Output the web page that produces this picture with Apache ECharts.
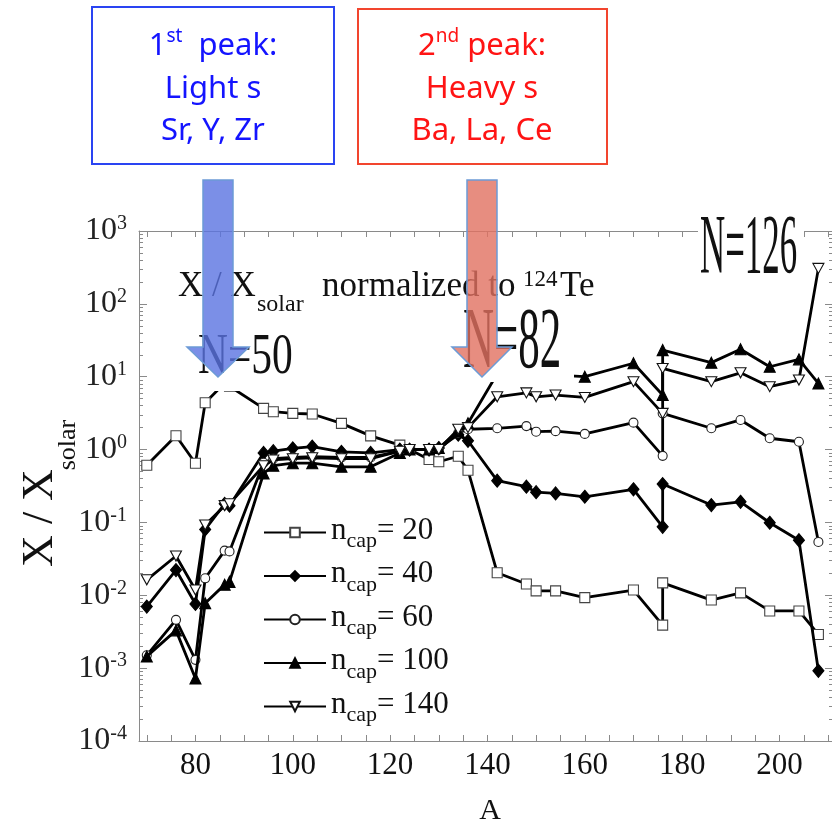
<!DOCTYPE html>
<html><head><meta charset="utf-8">
<script src="https://cdn.jsdelivr.net/npm/echarts@6/dist/echarts.min.js"></script>
<style>html,body{margin:0;padding:0;background:#fff}#c{width:832px;height:820px}</style>
</head><body><div id="c"></div>
<script>
// Mass numbers A (two points at A=176)
const massNumbers = [70, 76, 80, 82, 86, 87, 94, 96, 100, 104, 110, 116, 122, 124, 128, 130, 134, 136, 142, 148, 150, 154, 160, 170, 176, 176, 186, 192, 198, 204, 208];
const ncap20  = [0.61, 1.55, 0.65, 4.4, 8.2, 7.4, 3.68, 3.31, 3.14, 3.08, 2.29, 1.54, 1.15, 1.0, 0.73, 0.68, 0.81, 0.52, 0.0204, 0.0143, 0.0115, 0.0115, 0.0093, 0.0118, 0.0039, 0.0148, 0.0086, 0.0108, 0.0061, 0.0061, 0.0029];
const ncap40  = [0.0070, 0.0222, 0.0076, 0.080, 0.18, 0.17, 0.90, 0.95, 1.04, 1.10, 0.93, 0.90, 1.0, 1.0, 1.0, 1.05, 1.6, 1.32, 0.374, 0.31, 0.26, 0.25, 0.225, 0.285, 0.087, 0.336, 0.173, 0.192, 0.099, 0.057, 0.00092];
const ncap60  = [0.0015, 0.0046, 0.0013, 0.0171, 0.041, 0.040, 0.66, 0.75, 0.78, 0.80, 0.78, 0.78, 0.95, 1.0, 1.0, 1.0, 1.7, 1.9, 1.96, 2.1, 1.76, 1.79, 1.64, 2.34, 0.82, 3.14, 1.96, 2.55, 1.43, 1.28, 0.054];
const ncap100 = [0.00145, 0.0033, 0.00072, 0.0078, 0.014, 0.0153, 0.47, 0.60, 0.65, 0.65, 0.58, 0.58, 0.90, 1.0, 1.0, 1.05, 1.8, 2.3, 11, 11.5, 11, 10.5, 10, 15.3, 5.6, 23.2, 15.6, 23.8, 13.7, 17.3, 8.1];
const ncap140 = [0.0163, 0.0346, 0.0118, 0.092, 0.17, 0.18, 0.60, 0.72, 0.75, 0.77, 0.75, 0.75, 0.95, 1.0, 1.0, 1.0, 1.9, 2.0, 5.3, 6.0, 5.3, 5.6, 5.2, 8.55, 3.14, 13, 8.55, 11.3, 7.3, 9.0, 307];

const seriesNames = ['n_cap = 20', 'n_cap = 40', 'n_cap = 60', 'n_cap = 100', 'n_cap = 140'];
const legendValues = ['20', '40', '60', '100', '140'];
const xLabelValues = [80, 100, 120, 140, 160, 180, 200];
const xTickValues = [70, 75, 80, 85, 90, 95, 100, 105, 110, 115, 120, 125, 130, 135, 140, 145, 150, 155, 160, 165, 170, 175, 180, 185, 190, 195, 200, 205, 210];
const yDecadeExponents = [-4, -3, -2, -1, 0, 1, 2, 3];
const yMinorMultipliers = [2, 3, 4, 5, 6, 7, 8, 9];

const serif = 'Liberation Serif';
const sans = 'Noto Sans';
const minorTickLogs = [];
yDecadeExponents.slice(0, -1).forEach(e => yMinorMultipliers.forEach(m => minorTickLogs.push(e + Math.log10(m))));

const pair = arr => massNumbers.map((a, i) => [a, arr[i]]);
const allValues = [ncap20, ncap40, ncap60, ncap100, ncap140];
const symbolDefs = [
  {symbol: 'rect', size: 10, fill: '#fff', border: '#444'},
  {symbol: 'diamond', size: [11, 13], fill: '#000', border: '#000'},
  {symbol: 'circle', size: 9, fill: '#fff', border: '#222'},
  {symbol: 'triangle', size: 11, fill: '#000', border: '#000'},
  {symbol: 'path://M0,0L10,0L5,9Z', size: [11, 10], fill: '#fff', border: '#111'}
];

const series = allValues.map((vals, i) => ({
  name: seriesNames[i],
  type: 'line',
  data: pair(vals),
  symbol: symbolDefs[i].symbol,
  symbolSize: symbolDefs[i].size,
  showSymbol: true,
  showAllSymbol: true,
  lineStyle: {color: '#000', width: 2.8},
  itemStyle: {color: symbolDefs[i].fill, borderColor: symbolDefs[i].border, borderWidth: 1.1},
  emphasis: {disabled: true},
  z: 2 + i
}));

const axisGray = '#8a8a8a';

const graphicEls = [
  // white label backgrounds (cover the curves like in the original figure)
  {type: 'rect', shape: {x: 185, y: 330, width: 117, height: 61}, style: {fill: '#fff'}, z: 50},
  {type: 'rect', shape: {x: 455, y: 306, width: 119, height: 76}, style: {fill: '#fff'}, z: 50},
  {type: 'rect', shape: {x: 698, y: 214, width: 106, height: 68}, style: {fill: '#fff'}, z: 50},
  // N labels
  {type: 'text', x: 198, y: 358, scaleX: 0.74, style: {text: 'N=50', fontSize: 56, fontFamily: serif, fill: '#111', align: 'left', verticalAlign: 'middle'}, z: 55},
  {type: 'text', x: 463, y: 344, scaleX: 0.5, style: {text: 'N=82', fontSize: 86, fontFamily: serif, fill: '#111', align: 'left', verticalAlign: 'middle'}, z: 55},
  {type: 'text', x: 700, y: 251, scaleX: 0.41, style: {text: 'N=126', fontSize: 85, fontFamily: serif, fill: '#111', align: 'left', verticalAlign: 'middle'}, z: 55},
  // inner title
  {type: 'text', x: 178, y: 287, style: {text: 'X / X', fontSize: 35, fontFamily: serif, fill: '#111', align: 'left', verticalAlign: 'middle'}, z: 55},
  {type: 'text', x: 257, y: 305, style: {text: 'solar', fontSize: 24, fontFamily: serif, fill: '#111', align: 'left', verticalAlign: 'middle'}, z: 55},
  {type: 'text', x: 322, y: 287, style: {text: 'normalized to', fontSize: 35, fontFamily: serif, fill: '#111', align: 'left', verticalAlign: 'middle'}, z: 55},
  {type: 'text', x: 523, y: 280, style: {text: '124', fontSize: 23, fontFamily: serif, fill: '#111', align: 'left', verticalAlign: 'middle'}, z: 55},
  {type: 'text', x: 560, y: 287, style: {text: 'Te', fontSize: 35, fontFamily: serif, fill: '#111', align: 'left', verticalAlign: 'middle'}, z: 55},
  // y axis title
  {type: 'text', x: 40, y: 518, rotation: Math.PI / 2, style: {text: 'X / X', fontSize: 44, fontFamily: serif, fill: '#111', align: 'center', verticalAlign: 'middle'}, z: 55},
  {type: 'text', x: 68, y: 445, rotation: Math.PI / 2, style: {text: 'solar', fontSize: 26, fontFamily: serif, fill: '#111', align: 'center', verticalAlign: 'middle'}, z: 55},
  // arrows
  {type: 'polygon', shape: {points: [[203, 180], [233, 180], [233, 347], [249, 347], [218, 377], [187, 347], [203, 347]]},
   style: {fill: 'rgba(90,115,225,0.8)', stroke: '#6c9bd6', lineWidth: 1.5}, z: 60},
  {type: 'polygon', shape: {points: [[467, 180], [497, 180], [497, 347], [512, 347], [482, 377], [452, 347], [467, 347]]},
   style: {fill: 'rgba(225,112,96,0.8)', stroke: '#6c9bd6', lineWidth: 1.5}, z: 60},
  // top boxes
  {type: 'rect', shape: {x: 92, y: 7, width: 242, height: 157}, style: {fill: '#fff', stroke: '#2a44f2', lineWidth: 2}, z: 60},
  {type: 'rect', shape: {x: 358, y: 9, width: 249, height: 155}, style: {fill: '#fff', stroke: '#f2452e', lineWidth: 2}, z: 60},
  {type: 'text', x: 213, y: 46, style: {text: '{m|1}{s|st}{m|  peak:}', align: 'center', verticalAlign: 'middle',
    rich: {m: {fontSize: 31, fontFamily: sans, fill: '#1414ff', verticalAlign: 'middle'}, s: {fontSize: 19, fontFamily: sans, fill: '#1414ff', verticalAlign: 'middle', padding: [0, 0, 18, 0]}}}, z: 61},
  {type: 'text', x: 213, y: 89, style: {text: 'Light s', fontSize: 31, fontFamily: sans, fill: '#1414ff', align: 'center', verticalAlign: 'middle'}, z: 61},
  {type: 'text', x: 213, y: 131, style: {text: 'Sr, Y, Zr', fontSize: 31, fontFamily: sans, fill: '#1414ff', align: 'center', verticalAlign: 'middle'}, z: 61},
  {type: 'text', x: 482, y: 46, style: {text: '{m|2}{s|nd}{m| peak:}', align: 'center', verticalAlign: 'middle',
    rich: {m: {fontSize: 31, fontFamily: sans, fill: '#ff1414', verticalAlign: 'middle'}, s: {fontSize: 19, fontFamily: sans, fill: '#ff1414', verticalAlign: 'middle', padding: [0, 0, 18, 0]}}}, z: 61},
  {type: 'text', x: 482, y: 89, style: {text: 'Heavy s', fontSize: 31, fontFamily: sans, fill: '#ff1414', align: 'center', verticalAlign: 'middle'}, z: 61},
  {type: 'text', x: 482, y: 131, style: {text: 'Ba, La, Ce', fontSize: 31, fontFamily: sans, fill: '#ff1414', align: 'center', verticalAlign: 'middle'}, z: 61}
];

const xCommon = {
  type: 'value', min: 68.4, max: 211,
  axisLine: {show: true, onZero: false, lineStyle: {color: axisGray, width: 1}},
  splitLine: {show: false}
};
const yLogCommon = {
  type: 'log', logBase: 10, min: 1e-4, max: 1e3,
  axisLine: {show: true, onZero: false, lineStyle: {color: axisGray, width: 1}},
  axisTick: {show: true, inside: true, length: 8, lineStyle: {color: axisGray}},
  splitLine: {show: false}
};
const yMinorCommon = {
  type: 'value', min: -4, max: 3,
  axisLine: {show: false},
  axisLabel: {show: false},
  axisTick: {show: true, inside: true, length: 4, customValues: minorTickLogs, lineStyle: {color: axisGray}},
  splitLine: {show: false}
};

const option = {
  animation: false,
  backgroundColor: '#fff',
  grid: {left: 139, top: 231, right: -1, bottom: 79, containLabel: false, outerBoundsMode: 'none'},
  xAxis: [
    Object.assign({}, xCommon, {
      position: 'bottom',
      name: 'A', nameLocation: 'middle', nameGap: 55,
      nameTextStyle: {fontFamily: serif, fontSize: 30, color: '#111', padding: [0, 0, 0, 8]},
      axisTick: {show: true, inside: true, length: 6, customValues: xTickValues, lineStyle: {color: axisGray}},
      axisLabel: {show: true, customValues: xLabelValues, margin: 9, fontFamily: serif, fontSize: 31, color: '#111'}
    }),
    Object.assign({}, xCommon, {
      position: 'top',
      axisTick: {show: true, inside: true, length: 6, customValues: xTickValues, lineStyle: {color: axisGray}},
      axisLabel: {show: false}
    })
  ],
  yAxis: [
    Object.assign({}, yLogCommon, {
      position: 'left',
      axisLabel: {show: true, margin: 12,
        formatter: v => '{b|10}{s|' + Math.round(Math.log10(v)) + '}',
        rich: {
          b: {fontFamily: serif, fontSize: 32, color: '#222', verticalAlign: 'middle'},
          s: {fontFamily: serif, fontSize: 20, color: '#222', verticalAlign: 'middle', padding: [0, 0, 14, 0]}
        }}
    }),
    Object.assign({}, yLogCommon, {position: 'right', axisLabel: {show: false}}),
    Object.assign({}, yMinorCommon, {position: 'left'}),
    Object.assign({}, yMinorCommon, {position: 'right'})
  ],
  legend: {
    orient: 'vertical', left: 258, top: 510,
    itemWidth: 62, itemHeight: 12, itemGap: 6,
    data: seriesNames,
    selectedMode: false,
    formatter: name => '{n|n}{c|cap}{v|= ' + legendValues[seriesNames.indexOf(name)] + '}',
    textStyle: {
      rich: {
        n: {fontFamily: serif, fontSize: 31, color: '#111', verticalAlign: 'middle', padding: [0, 0, 4, 0]},
        c: {fontFamily: serif, fontSize: 22, color: '#111', verticalAlign: 'middle', padding: [18, 0, 0, 0]},
        v: {fontFamily: serif, fontSize: 31, color: '#111', verticalAlign: 'middle', padding: [0, 0, 4, 0]}
      }
    }
  },
  series: series,
  graphic: {elements: graphicEls}
};

const chart = echarts.init(document.getElementById('c'));
chart.setOption(option);
</script>
</body></html>
